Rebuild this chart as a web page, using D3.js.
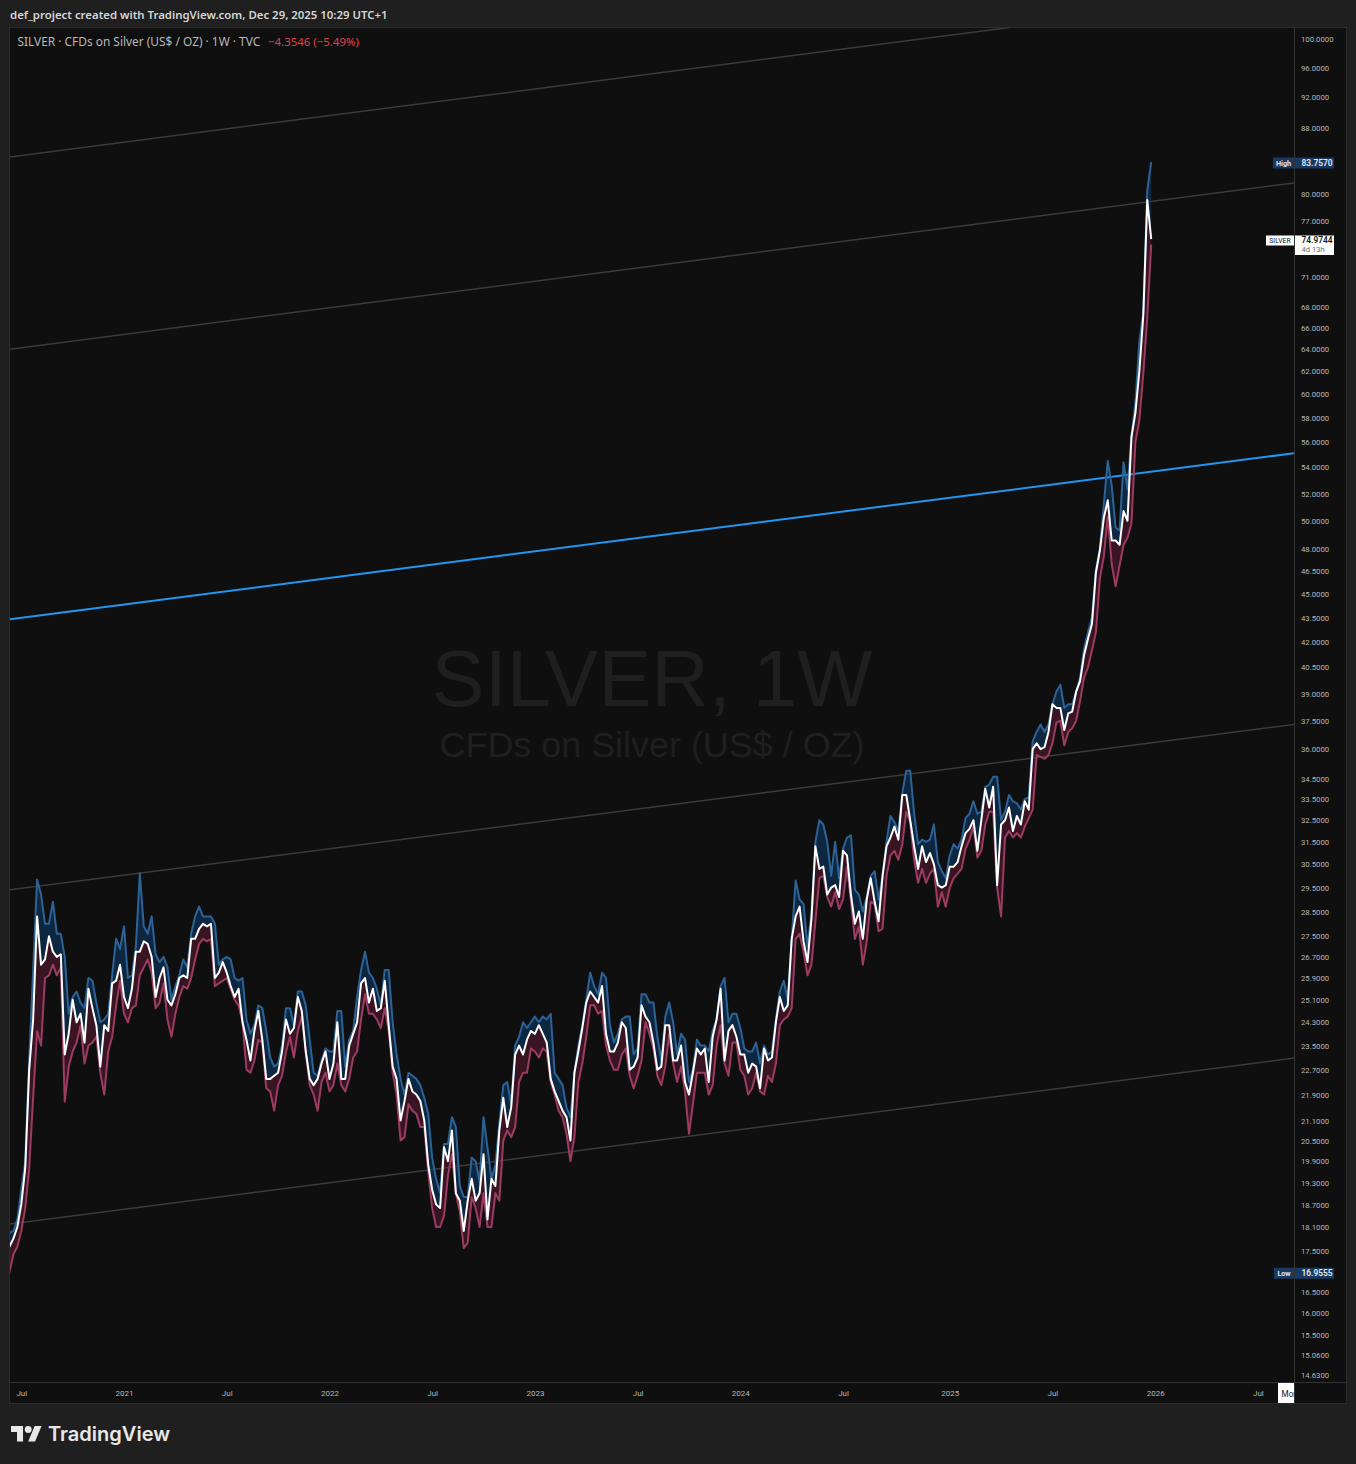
<!DOCTYPE html>
<html>
<head>
<meta charset="utf-8">
<script src="https://cdn.jsdelivr.net/npm/d3@7"></script>
<style>
  html, body { margin:0; padding:0; background:#1f1f1f; overflow:hidden; }
  svg { display:block; }
</style>
</head>
<body>
<script>
// ================= DATA =================
const firstWeek = "2020-06-01";   // weekly bars (Monday), one per week
const highs = [
  // 2020 (Jun 1 - Dec 28)
  18.5,18.0,17.95,18.0,18.3,19.1,19.9,23.0,26.2,29.84,29.2,28.0,28.0,28.9,27.6,27.6,26.7,24.6,25.2,25.4,25.0,24.8,25.9,25.8,25.0,24.3,24.4,24.6,26.0,27.4,27.0,
  // 2021
  27.9,25.9,26.0,27.1,30.1,27.9,27.6,28.3,26.8,26.5,26.7,26.3,25.1,25.6,26.0,26.6,26.3,27.6,28.3,28.7,28.3,28.3,28.3,28.0,26.4,26.6,26.7,26.6,25.9,25.8,25.9,24.4,23.9,24.2,24.9,24.8,24.0,23.1,22.8,22.9,23.5,24.8,24.8,24.2,25.4,25.4,24.9,23.7,22.6,22.5,23.0,23.4,
  // 2022
  23.3,23.3,24.7,24.7,22.8,23.7,24.0,25.2,26.2,26.9,26.1,25.9,25.5,24.9,26.2,26.2,24.3,23.2,22.4,21.9,22.6,22.5,22.4,22.2,21.8,21.3,20.0,19.4,19.0,20.4,20.4,21.2,20.9,19.2,18.9,18.9,20.0,19.9,19.3,21.2,20.3,19.4,19.8,21.0,22.2,22.3,21.6,23.5,23.8,24.3,24.1,24.3,
  // 2023
  24.5,24.3,24.5,24.4,24.6,22.6,22.4,22.2,21.5,21.2,22.6,23.5,24.2,25.1,26.1,25.6,25.3,26.1,25.9,24.2,23.6,23.9,24.4,24.5,24.5,23.2,23.4,25.3,25.3,25.0,25.0,23.8,23.0,24.5,25.0,24.3,23.2,23.9,23.7,22.3,22.7,23.7,23.5,23.5,23.3,24.0,24.4,25.6,25.9,24.3,24.6,24.6,
  // 2024
  24.1,23.4,23.3,23.3,23.6,22.9,23.5,23.2,23.3,24.4,25.4,25.8,25.1,27.4,29.8,29.0,28.8,27.1,28.4,31.5,32.5,32.3,31.5,30.0,31.5,29.9,31.2,31.7,31.8,29.4,29.2,28.5,29.1,30.0,30.2,29.0,30.0,31.5,32.7,32.4,32.0,33.8,34.9,34.9,32.8,31.4,31.6,31.5,31.6,32.3,30.6,30.2,29.9,
  // 2025
  30.9,31.4,31.2,31.6,32.6,32.8,33.4,32.8,32.9,34.1,34.2,34.6,34.6,32.5,32.9,33.7,33.4,33.3,33.0,33.5,33.6,36.4,36.9,37.3,36.9,37.3,38.4,39.1,39.5,38.2,38.4,38.4,39.1,39.9,41.6,42.6,43.5,46.6,48.0,51.2,54.5,52.6,49.5,49.3,54.4,52.3,56.5,59.3,64.7,67.5,80.4,83.757
];
const lows = [
  // 2020
  17.3,17.2,16.9555,17.4,17.6,18.0,18.6,19.7,21.8,24.0,23.5,25.9,26.0,26.4,26.0,26.3,21.68,22.8,23.3,23.6,24.2,22.9,23.5,23.6,23.8,22.6,21.9,23.3,23.8,24.9,25.8,
  // 2021
  24.6,24.3,24.8,24.9,26.0,26.3,26.6,26.1,24.8,25.0,25.7,24.4,23.8,24.6,25.2,25.6,25.5,25.9,26.6,27.2,27.4,27.3,27.4,25.6,25.7,25.8,25.9,25.5,25.1,24.9,24.3,22.7,22.6,23.0,23.7,23.6,22.1,22.0,21.4,22.2,22.5,23.3,23.8,23.1,24.0,24.5,23.3,22.2,21.9,21.4,22.3,22.6,
  // 2022
  22.0,22.2,22.9,22.2,22.0,22.4,23.1,23.3,24.4,25.3,24.6,24.6,24.4,24.1,24.8,24.0,22.6,21.9,20.5,20.6,21.6,21.4,21.3,20.9,20.9,19.6,18.6,18.1,18.1,18.4,19.5,20.1,19.0,18.5,17.56,17.7,18.9,18.6,18.1,19.0,18.1,18.1,19.0,18.8,20.5,20.8,20.6,20.9,22.3,22.6,22.6,23.4,
  // 2023
  23.3,23.1,23.4,23.3,22.3,21.9,21.4,21.2,20.7,19.9,20.6,22.3,22.9,23.8,24.9,24.9,24.6,24.7,23.5,23.0,22.7,22.7,23.2,23.4,22.5,22.1,22.5,23.0,24.3,23.9,23.4,22.5,22.2,22.8,23.9,22.9,22.3,22.8,22.0,20.7,21.6,22.6,22.6,22.6,21.9,22.2,23.5,24.2,22.9,22.5,23.6,23.6,
  // 2024
  22.7,22.5,21.9,22.1,22.6,22.0,21.9,22.5,22.3,22.9,24.2,24.4,24.5,24.8,27.4,27.6,26.9,26.0,26.4,28.1,29.9,30.0,29.1,28.7,29.3,28.6,29.0,30.4,28.9,27.4,27.9,26.4,27.3,28.9,28.8,27.7,27.8,30.0,30.9,31.1,30.7,31.4,32.9,32.4,30.7,29.7,30.3,29.7,30.1,30.3,28.7,29.3,28.7,
  // 2025
  29.5,29.9,30.1,30.3,31.2,31.6,32.2,30.8,31.1,32.3,32.9,32.9,29.5,28.3,31.7,32.0,31.7,31.9,31.7,32.2,32.6,33.0,35.7,35.6,35.5,35.7,36.3,37.4,37.5,36.2,36.9,37.1,37.5,38.6,39.9,40.5,41.5,42.6,46.0,47.5,50.3,47.0,45.5,46.9,48.3,48.8,49.8,56.0,57.8,61.8,67.0,74.4
];
const closes = [
  // 2020
  17.5,17.4,17.6,17.8,18.1,18.7,19.7,22.7,24.4,28.3,26.4,26.6,27.5,26.9,26.7,26.8,23.2,23.9,25.1,24.3,24.6,23.6,25.5,24.8,24.2,22.8,24.2,24.0,25.7,25.8,26.4,
  // 2021
  25.2,24.8,25.5,26.9,26.9,27.3,27.2,26.7,25.2,25.9,26.3,25.1,24.9,25.3,25.9,26.0,25.9,27.4,27.4,27.8,28.0,27.9,28.0,25.9,26.1,26.5,26.1,25.6,25.2,25.5,24.3,23.7,23.0,24.0,24.7,23.7,22.4,22.4,22.5,22.6,23.3,24.4,23.9,24.1,25.2,24.7,23.3,22.4,22.2,22.4,22.9,23.3,
  // 2022
  22.4,22.9,24.3,22.4,22.4,23.5,23.9,24.3,25.7,25.9,25.0,25.5,24.7,24.8,25.8,24.2,22.8,22.4,21.1,21.7,22.4,22.0,21.9,21.7,21.1,19.8,19.1,18.7,18.6,20.3,19.9,20.8,19.0,18.8,18.0,18.8,19.4,18.8,19.0,20.1,18.3,19.4,19.2,20.8,21.8,20.9,21.5,23.2,23.5,23.2,23.7,24.0,
  // 2023
  23.9,24.2,23.9,23.6,22.4,22.0,21.7,21.4,21.2,20.5,22.6,23.3,24.1,25.0,25.4,25.2,25.0,25.6,23.9,23.3,23.3,23.6,24.3,24.1,22.7,22.8,23.1,24.9,24.5,24.3,23.6,22.7,22.8,24.2,24.2,23.0,23.0,23.5,22.3,21.9,22.6,23.4,23.2,23.4,22.3,23.8,24.4,25.5,23.0,24.0,24.2,23.8,
  // 2024
  23.2,23.2,22.6,22.9,22.8,22.1,23.4,23.0,23.1,24.3,25.2,24.7,24.9,27.4,28.3,28.7,27.3,26.5,28.2,31.3,30.3,30.4,29.2,29.5,29.6,29.1,31.1,30.9,29.2,28.0,28.5,27.4,29.0,29.9,28.9,28.1,30.0,31.3,31.7,32.2,31.6,33.7,33.7,32.5,31.3,30.3,31.3,30.6,31.0,30.5,29.6,29.5,29.6,
  // 2025
  30.4,30.4,30.6,31.3,31.9,32.1,32.5,31.1,32.5,34.0,33.1,34.1,29.6,32.3,32.5,33.1,32.0,32.7,32.3,33.4,33.0,36.0,36.3,36.0,36.1,36.9,38.4,38.2,38.2,37.0,37.9,38.0,39.1,39.7,41.2,42.2,43.1,46.4,47.9,50.2,51.5,48.6,48.6,48.3,50.7,50.0,56.4,58.4,62.0,67.2,79.329,74.9744
];
const priceTicks = [100,96,92,88,80,77,71,68,66,64,62,60,58,56,54,52,50,48,46.5,45,43.5,42,40.5,39,37.5,36,34.5,33.5,32.5,31.5,30.5,29.5,28.5,27.5,26.7,25.9,25.1,24.3,23.5,22.7,21.9,21.1,20.5,19.9,19.3,18.7,18.1,17.5,16.5,16.0,15.5,15.06,14.63];
const timeTickDates = ["2020-07-06","2021-01-04","2021-07-05","2022-01-03","2022-07-04","2023-01-02","2023-07-03","2024-01-01","2024-07-01","2025-01-06","2025-07-07","2026-01-05","2026-07-06"];
const timeTickLabels = ["Jul","2021","Jul","2022","Jul","2023","Jul","2024","Jul","2025","Jul","2026","Jul"];
const visibleRange = ["2020-06-16","2026-09-08"];
const priceRange = [14.483, 101.595];
// parallel channel lines: price at start / end of visible range
const channelStart = [84.4, 64.0, 43.4, 29.4, 18.18];
const channelEnd   = [107.2, 81.3, 55.1, 37.3, 23.08];
const channelKind  = ["gray","gray","blue","gray","gray"];
const symbol = "SILVER";
const description = "CFDs on Silver (US$ / OZ)";
const interval = "1W";
const exchange = "TVC";
const countdown = "4d 13h";
const headerText = "def_project created with TradingView.com, Dec 29, 2025 10:29 UTC+1";

// ================= LAYOUT / STYLE =================
const W = 1356, H = 1464;
const P = {left:10, right:1294, top:28, bottom:1382};
const C = {
  outer:"#1f1f1f", pane:"#0f0f0f", border:"#2c2c2c", sep:"#333333",
  hiLine:"#2d6296", hiFill:"#0d2741", loLine:"#9c3c60", loFill:"#391423",
  close:"#ffffff", chanGray:"#3b3b3b", chanBlue:"#2196f3",
  axisText:"#b8b8b8", watermark:"#1f1f1f", label:"#183a62"
};
const uiFont = "'Noto Sans', 'Open Sans', sans-serif";
const axFont = "Roboto, 'Liberation Sans', sans-serif";

function fitWidth(sel, target) {
  const w = sel.node().getComputedTextLength();
  const fs = parseFloat(sel.attr("font-size"));
  if (w > 0) sel.attr("font-size", fs * target / w);
  return sel;
}

const parse = d3.utcParse("%Y-%m-%d");
const start = parse(firstWeek);
const bars = closes.map((c, i) => ({date: d3.utcDay.offset(start, 7 * i), h: highs[i], l: lows[i], c}));

const x = d3.scaleUtc().domain(visibleRange.map(parse)).range([P.left, P.right]);
const y = d3.scaleLog().domain(priceRange).range([P.bottom, P.top]);

const svg = d3.select("body").append("svg").attr("width", W).attr("height", H)
  .attr("font-family", uiFont);

svg.append("rect").attr("width", W).attr("height", H).attr("fill", C.outer);
svg.append("rect").attr("x", 9.5).attr("y", 27.5).attr("width", 1337).attr("height", 1376)
  .attr("fill", C.pane).attr("stroke", C.border);

// watermark
const wm1 = svg.append("text").attr("x", (P.left + P.right) / 2).attr("y", 706)
  .attr("text-anchor", "middle").attr("font-family", "'Liberation Sans', Arial, sans-serif")
  .attr("font-size", 80).attr("fill", C.watermark).text(`${symbol}, ${interval}`);
fitWidth(wm1, 441);
const wm2 = svg.append("text").attr("x", (P.left + P.right) / 2).attr("y", 757)
  .attr("text-anchor", "middle").attr("font-family", "'Liberation Sans', Arial, sans-serif")
  .attr("font-size", 36).attr("fill", C.watermark).text(description);
fitWidth(wm2, 425);

// plot clip
svg.append("clipPath").attr("id", "plotclip").append("rect")
  .attr("x", P.left).attr("y", P.top).attr("width", P.right - P.left).attr("height", P.bottom - P.top);
const g = svg.append("g").attr("clip-path", "url(#plotclip)");

g.append("path").datum(bars).attr("fill", C.hiFill)
  .attr("d", d3.area().x(d => x(d.date)).y0(d => y(d.c)).y1(d => y(d.h)));
g.append("path").datum(bars).attr("fill", C.loFill)
  .attr("d", d3.area().x(d => x(d.date)).y0(d => y(d.c)).y1(d => y(d.l)));

// channel lines
const chanLine = d3.line().x(d => x(d[0])).y(d => y(d[1]));
channelStart.forEach((p0, i) => {
  const pts = [[parse(visibleRange[0]), p0], [parse(visibleRange[1]), channelEnd[i]]];
  g.append("path").datum(pts).attr("fill", "none")
    .attr("stroke", channelKind[i] === "blue" ? C.chanBlue : C.chanGray)
    .attr("stroke-width", channelKind[i] === "blue" ? 2 : 1.5)
    .attr("d", chanLine);
});

const mk = key => d3.line().x(d => x(d.date)).y(d => y(d[key]));
g.append("path").datum(bars).attr("fill", "none").attr("stroke", C.hiLine).attr("stroke-width", 2)
  .attr("stroke-linejoin", "round").attr("d", mk("h"));
g.append("path").datum(bars).attr("fill", "none").attr("stroke", C.loLine).attr("stroke-width", 2)
  .attr("stroke-linejoin", "round").attr("d", mk("l"));
g.append("path").datum(bars).attr("fill", "none").attr("stroke", C.close).attr("stroke-width", 2)
  .attr("stroke-linejoin", "round").attr("d", mk("c"));

// separators
svg.append("line").attr("x1", P.right + 0.5).attr("x2", P.right + 0.5).attr("y1", 28).attr("y2", 1403).attr("stroke", C.sep);
svg.append("line").attr("x1", 10).attr("x2", 1346).attr("y1", P.bottom + 0.5).attr("y2", P.bottom + 0.5).attr("stroke", C.sep);

// price axis
const yAxis = d3.axisRight(y).tickValues(priceTicks).tickFormat(d3.format(".4f")).tickSize(0).tickPadding(7);
const ya = svg.append("g").attr("transform", `translate(${P.right},0)`).call(yAxis);
ya.select(".domain").remove();
ya.selectAll("text").attr("fill", C.axisText).attr("font-family", axFont).attr("font-size", 8.4).attr("dy", "0.34em");
{
  const t = ya.select("text");
  const w = t.node().getComputedTextLength();
  const fs = 8.4 * 32.5 / w;
  ya.selectAll("text").attr("font-size", fs);
}

// time axis
const xAxis = d3.axisBottom(x).tickValues(timeTickDates.map(parse))
  .tickFormat((d, i) => timeTickLabels[i]).tickSize(0).tickPadding(9);
const xa = svg.append("g").attr("transform", `translate(0,${P.bottom})`).call(xAxis);
xa.select(".domain").remove();
xa.selectAll("text").attr("fill", C.axisText).attr("font-family", axFont).attr("font-size", 8.2).attr("dy", "0.6em");
{
  const t = xa.selectAll("text").filter((d, i) => timeTickLabels[i] === "2021");
  const w = t.node().getComputedTextLength();
  xa.selectAll("text").attr("font-size", 8.2 * 18 / w);
}

// "Mo" crosshair stub
svg.append("clipPath").attr("id", "moclip").append("rect").attr("x", 1270).attr("y", 1383).attr("width", 24).attr("height", 20);
const mo = svg.append("g").attr("clip-path", "url(#moclip)");
mo.append("rect").attr("x", 1278).attr("y", 1383).attr("width", 20).attr("height", 20).attr("fill", "#ffffff");
mo.append("text").attr("x", 1281.5).attr("y", 1397).attr("font-family", axFont).attr("font-size", 8.2).attr("fill", "#131722").text("Mon");

// markers
const fmt4 = d3.format(".4f");
const hiVal = d3.max(highs), loVal = d3.min(lows), last = closes[closes.length - 1];
function marker(val, tag, bg, fg, tagX) {
  const yy = y(val) + 0.8;
  svg.append("rect").attr("x", tagX).attr("y", yy - 5.5).attr("width", P.right - tagX).attr("height", 11).attr("fill", bg);
  svg.append("rect").attr("x", P.right + 1).attr("y", yy - 5.5).attr("width", 39).attr("height", 11).attr("fill", bg);
  svg.append("text").attr("x", (tagX + P.right) / 2).attr("y", yy + 2.8).attr("text-anchor", "middle")
    .attr("font-family", axFont).attr("font-size", 7.2).attr("font-weight", 700).attr("fill", fg).text(tag);
  svg.append("text").attr("x", 1301.5).attr("y", yy + 3).attr("font-family", axFont).attr("font-size", 8.4)
    .attr("font-weight", 600).attr("fill", fg).text(fmt4(val));
}
marker(hiVal, "High", C.label, "#e6e9f0", 1273);
marker(loVal, "Low", C.label, "#e6e9f0", 1274);

// last price marker
{
  const yy = y(last) + 0.8;
  svg.append("rect").attr("x", 1266).attr("y", yy - 4.5).attr("width", 28).attr("height", 10).attr("fill", "#ffffff");
  svg.append("text").attr("x", 1280).attr("y", yy + 2.6).attr("text-anchor", "middle").attr("font-family", axFont)
    .attr("font-size", 6.8).attr("fill", "#131722").text(symbol);
  svg.append("rect").attr("x", P.right + 1).attr("y", yy - 4.5).attr("width", 39).attr("height", 19.5).attr("fill", "#ffffff");
  svg.append("text").attr("x", 1301.5).attr("y", yy + 3).attr("font-family", axFont).attr("font-size", 8.4)
    .attr("font-weight", 600).attr("fill", "#131722").text(fmt4(last));
  svg.append("text").attr("x", 1301.5).attr("y", yy + 12).attr("font-family", axFont).attr("font-size", 7.6)
    .attr("fill", "#6a6d78").text(countdown);
}

// header
const hdr = svg.append("text").attr("x", 10).attr("y", 18.5).attr("font-size", 13).attr("font-weight", 600)
  .attr("fill", "#d6d6d6").text(headerText);
fitWidth(hdr, 378);

// legend
const chg = last - closes[closes.length - 2];
const pct = chg / closes[closes.length - 2];
const lg = svg.append("text").attr("x", 17.5).attr("y", 45.5).attr("font-size", 12).attr("fill", "#b8b8b8")
  .text(`${symbol} · ${description} · ${interval} · ${exchange}`);
fitWidth(lg, 243);
const lr = svg.append("text").attr("x", 268).attr("y", 45.5).attr("font-size", 12).attr("fill", "#e0404e")
  .text(`${d3.format(".4f")(chg)} (${d3.format(".2%")(pct)})`);
fitWidth(lr, 91);

// TradingView logo
const logo = svg.append("g").attr("transform", "translate(11,1422.6) scale(0.86)").attr("fill", "#e8e8e8");
logo.append("path").attr("d", "M14 22H7V11H0V4h14v18zM28 22h-8l7.5-18h8L28 22z");
logo.append("circle").attr("cx", 20).attr("cy", 8).attr("r", 4);
const lt = svg.append("text").attr("x", 48).attr("y", 1441).attr("font-family", "Inter, 'Noto Sans', sans-serif")
  .attr("font-size", 20).attr("font-weight", 600).attr("fill", "#e8e8e8").text("TradingView");
fitWidth(lt, 122);
</script>
</body>
</html>
